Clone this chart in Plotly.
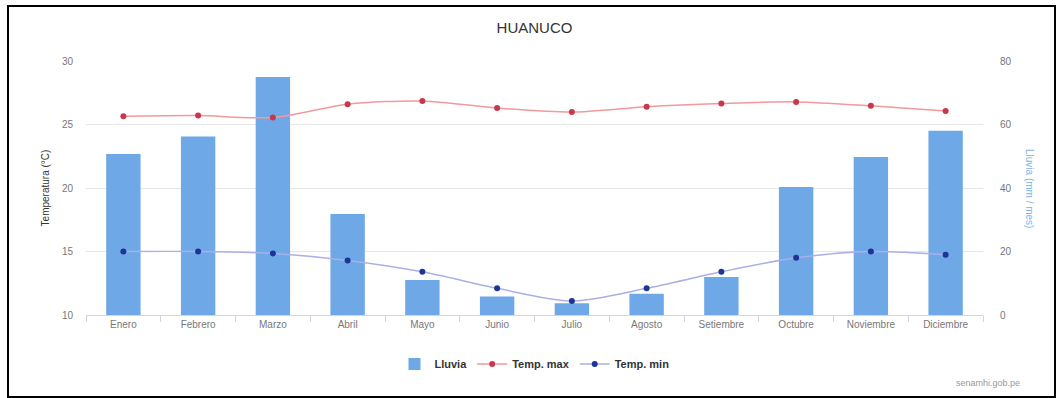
import plotly.graph_objects as go

meses = ["Enero", "Febrero", "Marzo", "Abril", "Mayo", "Junio", "Julio",
         "Agosto", "Setiembre", "Octubre", "Noviembre", "Diciembre"]
lluvia = [50.7, 56.2, 75.0, 31.8, 11.0, 5.8, 3.7, 6.7, 12.0, 40.3, 49.8, 58.0]
temp_max = [25.65, 25.7, 25.55, 26.6, 26.85, 26.3, 25.98, 26.4, 26.65, 26.78, 26.47, 26.07]
temp_min = [15.0, 15.0, 14.85, 14.3, 13.4, 12.1, 11.1, 12.1, 13.4, 14.5, 15.0, 14.75]

left_ticks = [10, 15, 20, 25, 30]
right_ticks = [0, 20, 40, 60, 80]

fig = go.Figure()
fig.add_trace(go.Bar(
    x=meses, y=lluvia, name="Lluvia", yaxis="y",
    marker=dict(color="#6fa8e6", line=dict(width=0)), width=0.46,
))
fig.add_trace(go.Scatter(
    x=meses, y=temp_max, name="Temp. max", yaxis="y2",
    mode="lines+markers", line=dict(color="#f2999b", width=1.5, shape="spline", smoothing=0.8),
    marker=dict(color="#c8374a", size=6),
))
fig.add_trace(go.Scatter(
    x=meses, y=temp_min, name="Temp. min", yaxis="y2",
    mode="lines+markers", line=dict(color="#aab0e6", width=1.5, shape="spline", smoothing=0.8),
    marker=dict(color="#1c3597", size=6),
))

L, R, T, B = 86, 77, 61, 83
W, H = 1060, 398
pw, ph = W - L - R, H - T - B

def px(x):
    return (x - L) / pw

def py(y):
    return (H - B - y) / ph

fig.update_layout(
    width=W, height=H,
    margin=dict(l=L, r=R, t=T, b=B),
    paper_bgcolor="white", plot_bgcolor="white",
    font=dict(family="Liberation Sans, Arial, sans-serif", color="#777777", size=10),
    title=dict(text="HUANUCO", x=0.5, xref="paper", xanchor="center", y=1 - 28 / H, yanchor="middle",
               font=dict(size=15, color="#333333")),
    bargap=0.5,
    showlegend=True,
    legend=dict(orientation="h", x=0.5, xanchor="center", y=py(364), yanchor="middle",
                font=dict(size=11, color="#333333", family="Liberation Sans, Arial, sans-serif",
                          weight=700),
                itemwidth=30, tracegroupgap=0),
    xaxis=dict(
        type="category", range=[-0.5, 11.5],
        showline=True, linecolor="#ccd6eb", linewidth=1,
        ticks="outside", tickson="boundaries", ticklen=6, tickcolor="#ccd6eb",
        tickfont=dict(size=10, color="#777777"), showgrid=False,
    ),
    yaxis=dict(
        side="right", range=[0, 80], tickvals=right_ticks,
        showgrid=True, gridcolor="#e6e6e6", zeroline=False,
        tickfont=dict(size=10, color="#777777"), ticklabelstandoff=16,
    ),
    yaxis2=dict(
        side="left", overlaying="y", range=[10, 30], tickvals=left_ticks,
        showgrid=False, zeroline=False,
        tickfont=dict(size=10, color="#777777"), ticklabelstandoff=12,
        title=dict(text="Temperatura (°C)", font=dict(size=10, color="#333333"), standoff=10),
    ),
    annotations=[
        dict(text="Lluvia (mm / mes)", xref="paper", yref="paper", x=px(1030), y=py(188),
             textangle=90, showarrow=False, font=dict(size=10, color="#7cb5ec"),
             xanchor="center", yanchor="middle"),
        dict(text="senamhi.gob.pe", xref="paper", yref="paper", x=px(1022), y=py(383),
             showarrow=False, font=dict(size=9, color="#999999"),
             xanchor="right", yanchor="middle"),
    ],
    shapes=[
        dict(type="rect", xref="paper", yref="paper",
             x0=px(8), x1=px(1055), y0=py(397), y1=py(6),
             line=dict(color="#000000", width=2), fillcolor="rgba(0,0,0,0)", layer="above"),
    ],
)

fig.write_html("out.html")
